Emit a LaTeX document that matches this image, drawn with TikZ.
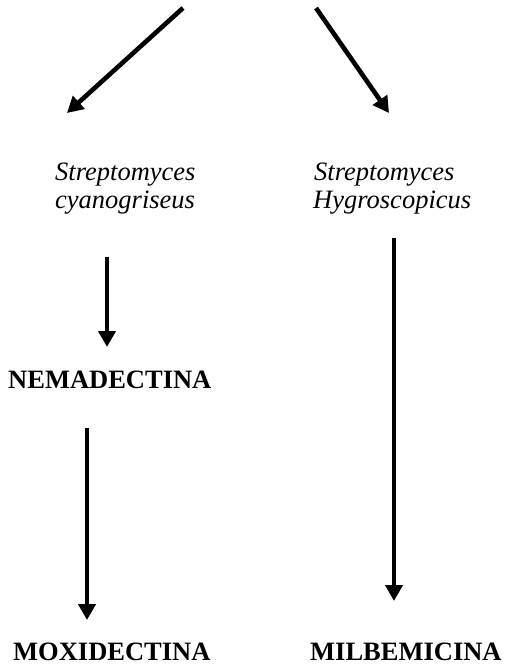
\documentclass[tikz,border=0pt]{standalone}
\usepackage{fontspec}
\setmainfont{Liberation Serif}
\usetikzlibrary{arrows.meta}
\begin{document}
\begin{tikzpicture}[x=1pt,y=-1pt,
  arr/.style={line width=4.6pt,-{Triangle[length=16pt,width=17pt]}},
  species/.style={anchor=base west,inner sep=0pt,font=\fontsize{26.5}{28}\selectfont\itshape},
  drug/.style={anchor=base west,inner sep=0pt,font=\fontsize{26.5}{28}\selectfont\bfseries}]
\useasboundingbox (0,0) rectangle (505,665);
% labels
\node[species] (sc1) at (55,180) {Streptomyces};
\node[species] (sc2) at (55,208) {cyanogriseus};
\node[species] (sh1) at (314,180) {Streptomyces};
\node[species] (sh2) at (313,208) {Hygroscopicus};
\node[drug] (nem) at (8,388) {NEMADECTINA};
\node[drug] (mox) at (13,660) {MOXIDECTINA};
\node[drug] (mil) at (310,660) {MILBEMICINA};
% arrow ends
\coordinate (t1) at (183,8);
\coordinate (t2) at (316,8);
\coordinate (sct) at (67,113);
\coordinate (sht) at (389,113);
\coordinate (sco) at (107,257);
\coordinate (nemi) at (107,347);
\coordinate (nemo) at (87,428);
\coordinate (moxi) at (87,620);
\coordinate (sho) at (394,238);
\coordinate (mili) at (394,601);
\draw[arr] (t1) -- (sct);
\draw[arr] (t2) -- (sht);
\draw[arr] (sco) -- (nemi);
\draw[arr] (nemo) -- (moxi);
\draw[arr] (sho) -- (mili);
\end{tikzpicture}
\end{document}
